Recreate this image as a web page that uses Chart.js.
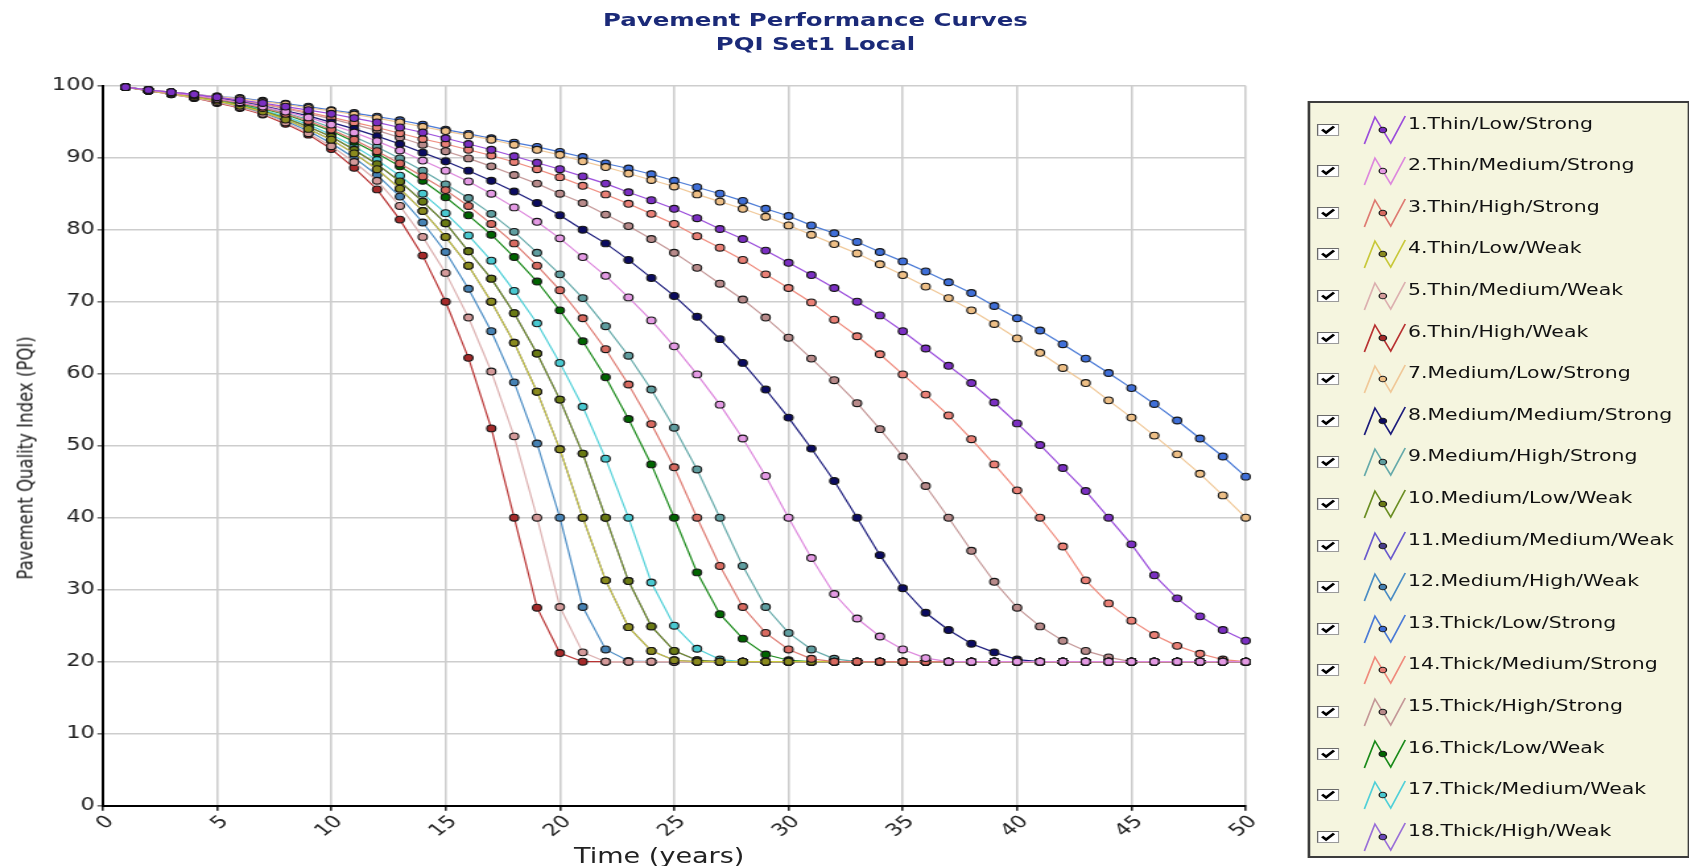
<!DOCTYPE html>
<html>
<head>
<meta charset="utf-8">
<script src="https://cdn.jsdelivr.net/npm/chart.js@4.4.1/dist/chart.umd.min.js"></script>
<style>
  html, body { margin: 0; padding: 0; background: #fff; }
  body { width: 1689px; height: 866px; overflow: hidden; position: relative; }
  #wrap { position: absolute; left: 0; top: 0; width: 1280px; height: 866px;
          transform: scaleX(1.3195); transform-origin: 0 0; }
  #c { position: absolute; left: 0; top: 0; }
  #title { position: absolute; left: 0; top: 8px; width: 1236px; text-align: center;
           font: bold 18.5px "DejaVu Sans", sans-serif; line-height: 23.5px; color: #1b2a78; }
  .axt { position: absolute; white-space: nowrap; color: #222; font-family: "DejaVu Sans", sans-serif; }
  #ytitle { left: 18.8px; top: 458px; font-size: 16.5px; transform: translate(-50%, -50%) rotate(-90deg); }
  #xtitle { left: 499.6px; top: 856px; font-size: 20.5px; transform: translate(-50%, -50%); }
  #legend { position: absolute; left: 991px; top: 101px; width: 286px; height: 753px;
            border: 2px solid #3c3c3c; background: #f5f5df; }
  .row { position: absolute; left: 0; height: 30px; width: 286px; }
  .row svg { position: absolute; }
  .row span { position: absolute; left: 74px; top: 0; line-height: 30px; white-space: nowrap;
              font: 15.5px "DejaVu Sans", sans-serif; color: #111; }
</style>
</head>
<body>
<div id="wrap">
  <div id="title">Pavement Performance Curves<br>PQI Set1 Local</div>
  <canvas id="c" width="990" height="866"></canvas>
  <div id="ytitle" class="axt">Pavement Quality Index (PQI)</div>
  <div id="xtitle" class="axt">Time (years)</div>
  <div id="legend"></div>
</div>
<script>
const years = [1,2,3,4,5,6,7,8,9,10,11,12,13,14,15,16,17,18,19,20,21,22,23,24,25,
               26,27,28,29,30,31,32,33,34,35,36,37,38,39,40,41,42,43,44,45,46,47,48,49,50];

const labels = ['1.Thin/Low/Strong','2.Thin/Medium/Strong','3.Thin/High/Strong','4.Thin/Low/Weak',
  '5.Thin/Medium/Weak','6.Thin/High/Weak','7.Medium/Low/Strong','8.Medium/Medium/Strong',
  '9.Medium/High/Strong','10.Medium/Low/Weak','11.Medium/Medium/Weak','12.Medium/High/Weak',
  '13.Thick/Low/Strong','14.Thick/Medium/Strong','15.Thick/High/Strong','16.Thick/Low/Weak',
  '17.Thick/Medium/Weak','18.Thick/High/Weak'];

const lineColors = ['#9b4ddb','#dd88dd','#de7b72','#c8c83a','#dcb0b0','#b83232','#f0c898','#1c1c7c',
  '#66aaaa','#6b8e23','#6a5acd','#4a8cc4','#4a7ad6','#ef8a7c','#c49898','#1a8a1a','#50d0d8','#9a70d8'];
const markerColors = ['#7b2fc2','#e49ae4','#d86a60','#8a8a1e','#d49a9a','#a52a2a','#eebf86','#0b0b60',
  '#5f9ea0','#6a7a14','#483d8b','#4682b4','#3f6fd8','#ea8076','#b88a8a','#006400','#48c8d0','#6a48b8'];

// PQI values, years 1..50
const s1 = [99.8,99.4,99.1,98.8,98.4,98.0,97.6,97.1,96.6,96.1,95.5,94.9,94.2,93.5,92.7,91.9,91.1,90.2,89.3,88.4,
  87.4,86.4,85.2,84.1,82.9,81.6,80.1,78.7,77.1,75.4,73.7,71.9,70.0,68.1,65.9,63.5,61.1,58.7,56.0,53.1,
  50.1,46.9,43.7,40.0,36.3,32.0,28.8,26.3,24.4,22.9];
const s2 = [99.8,99.4,99.0,98.7,98.2,97.7,97.1,96.4,95.6,94.6,93.5,92.3,91.0,89.6,88.2,86.7,85.0,83.1,81.1,78.8,
  76.2,73.6,70.6,67.4,63.8,59.9,55.7,51.0,45.8,40.0,34.4,29.4,26.0,23.5,21.7,20.5,20,20,20,20,
  20,20,20,20,20,20,20,20,20,20];
const s3 = [99.8,99.4,99.0,98.6,98.1,97.6,96.9,96.1,95.1,93.9,92.5,90.9,89.2,87.4,85.5,83.3,80.8,78.1,75.0,71.6,
  67.7,63.4,58.5,53.0,47.0,40.0,33.3,27.6,24.0,21.7,20.4,20,20,20,20,20,20,20,20,20,
  20,20,20,20,20,20,20,20,20,20];
const s4 = [99.8,99.3,98.9,98.4,97.9,97.2,96.4,95.3,94.0,92.5,90.6,88.4,85.7,82.6,79.0,75.0,70.0,64.3,57.5,49.5,
  40.0,31.3,24.8,21.5,20.2,20,20,20,20,20,20,20,20,20,20,20,20,20,20,20,
  20,20,20,20,20,20,20,20,20,20];
const s5 = [99.8,99.3,98.8,98.3,97.7,97.0,96.1,94.9,93.4,91.6,89.4,86.8,83.3,79.0,74.0,67.8,60.3,51.3,40.0,27.6,
  21.3,20,20,20,20,20,20,20,20,20,20,20,20,20,20,20,20,20,20,20,
  20,20,20,20,20,20,20,20,20,20];
const s6 = [99.8,99.3,98.8,98.3,97.6,96.9,96.0,94.7,93.2,91.2,88.6,85.6,81.4,76.4,70.0,62.2,52.4,40.0,27.5,21.2,
  20,20,20,20,20,20,20,20,20,20,20,20,20,20,20,20,20,20,20,20,
  20,20,20,20,20,20,20,20,20,20];
const s7 = [99.8,99.4,99.1,98.8,98.5,98.2,97.8,97.4,96.9,96.5,96.0,95.5,94.9,94.3,93.7,93.1,92.5,91.8,91.1,90.4,
  89.5,88.7,87.8,86.9,86.0,84.9,83.9,82.9,81.8,80.6,79.3,78.0,76.7,75.2,73.7,72.1,70.5,68.8,66.9,64.9,
  62.9,60.8,58.7,56.3,53.9,51.4,48.8,46.1,43.1,40.0];
const s8 = [99.8,99.4,99.0,98.7,98.3,97.8,97.2,96.5,95.8,94.9,94.0,93.0,91.9,90.7,89.5,88.2,86.8,85.3,83.7,82.0,
  80.0,78.1,75.8,73.3,70.8,67.9,64.8,61.5,57.8,53.9,49.6,45.1,40.0,34.8,30.2,26.8,24.4,22.5,21.3,20.3,
  20,20,20,20,20,20,20,20,20,20];
const s9 = [99.8,99.4,99.0,98.6,98.2,97.7,97.0,96.2,95.3,94.2,92.9,91.5,89.9,88.2,86.3,84.4,82.2,79.7,76.8,73.8,
  70.5,66.6,62.5,57.8,52.5,46.7,40.0,33.3,27.6,24.0,21.7,20.4,20,20,20,20,20,20,20,20,
  20,20,20,20,20,20,20,20,20,20];
const s10 = [99.8,99.3,98.9,98.5,97.9,97.3,96.5,95.5,94.3,92.9,91.1,89.1,86.7,83.9,80.9,77.0,73.2,68.4,62.8,56.4,
  48.9,40.0,31.2,24.9,21.5,20.2,20,20,20,20,20,20,20,20,20,20,20,20,20,20,
  20,20,20,20,20,20,20,20,20,20];
// 11 is not visible in the picture: it runs under curve 4
const s11 = [99.8,99.3,98.9,98.4,97.9,97.2,96.4,95.3,94.0,92.5,90.6,88.4,85.7,82.6,79.0,75.0,70.0,64.3,57.5,49.5,
  40.0,31.3,24.8,21.5,20.2,20,20,20,20,20,20,20,20,20,20,20,20,20,20,20,
  20,20,20,20,20,20,20,20,20,20];
const s12 = [99.8,99.3,98.9,98.4,97.8,97.1,96.2,95.1,93.7,92.0,90.0,87.6,84.6,81.0,76.9,71.8,65.9,58.8,50.3,40.0,
  27.6,21.7,20.1,20,20,20,20,20,20,20,20,20,20,20,20,20,20,20,20,20,
  20,20,20,20,20,20,20,20,20,20];
const s13 = [99.8,99.4,99.1,98.8,98.5,98.3,97.9,97.5,97.1,96.6,96.2,95.7,95.2,94.6,93.9,93.3,92.7,92.1,91.5,90.8,
  90.1,89.2,88.5,87.7,86.8,85.9,85.0,84.0,82.9,81.9,80.6,79.5,78.3,76.9,75.6,74.2,72.7,71.2,69.4,67.7,
  66.0,64.1,62.1,60.1,58.0,55.8,53.5,51.0,48.5,45.7];
const s14 = [99.8,99.4,99.1,98.8,98.4,98.0,97.5,96.9,96.3,95.6,94.9,94.2,93.4,92.6,91.9,91.1,90.3,89.4,88.4,87.3,
  86.1,84.9,83.6,82.2,80.8,79.1,77.5,75.8,73.8,71.9,69.9,67.5,65.2,62.7,59.9,57.1,54.2,50.9,47.4,43.8,
  40.0,36.0,31.3,28.1,25.7,23.7,22.2,21.1,20.3,20.0];
const s15 = [99.8,99.4,99.1,98.7,98.3,97.9,97.4,96.8,96.1,95.4,94.6,93.8,92.8,91.8,90.9,89.9,88.8,87.6,86.4,85.0,
  83.7,82.1,80.5,78.7,76.8,74.7,72.5,70.3,67.8,65.0,62.1,59.1,55.9,52.3,48.5,44.4,40.0,35.4,31.1,27.5,
  24.9,22.9,21.5,20.6,20,20,20,20,20,20];
const s16 = [99.8,99.4,99.0,98.6,98.1,97.5,96.8,96.0,94.9,93.7,92.2,90.6,88.8,86.8,84.5,82.0,79.3,76.2,72.8,68.8,
  64.5,59.5,53.7,47.4,40.0,32.4,26.6,23.2,21.0,20.2,20,20,20,20,20,20,20,20,20,20,
  20,20,20,20,20,20,20,20,20,20];
const s17 = [99.8,99.4,99.0,98.5,98.0,97.4,96.6,95.7,94.6,93.2,91.6,89.7,87.5,85.0,82.3,79.2,75.7,71.5,67.0,61.5,
  55.4,48.2,40.0,31.0,25.0,21.8,20.3,20,20,20,20,20,20,20,20,20,20,20,20,20,
  20,20,20,20,20,20,20,20,20,20];
// 18 is not visible in the picture: it runs under curve 10
const s18 = [99.8,99.3,98.9,98.5,97.9,97.3,96.5,95.5,94.3,92.9,91.1,89.1,86.7,83.9,80.9,77.0,73.2,68.4,62.8,56.4,
  48.9,40.0,31.2,24.9,21.5,20.2,20,20,20,20,20,20,20,20,20,20,20,20,20,20,
  20,20,20,20,20,20,20,20,20,20];

const series = [s1,s2,s3,s4,s5,s6,s7,s8,s9,s10,s11,s12,s13,s14,s15,s16,s17,s18];
const xTicks = [0,5,10,15,20,25,30,35,40,45,50];
const yTicks = [0,10,20,30,40,50,60,70,80,90,100];

const datasets = series.map((vals, i) => ({
  label: labels[i],
  data: years.map((t, j) => ({x: t, y: vals[j]})),
  borderColor: lineColors[i],
  borderWidth: 1.2,
  pointRadius: 3.4,
  pointBorderWidth: 1.1,
  pointBorderColor: '#151515',
  pointBackgroundColor: markerColors[i],
  fill: false,
  clip: 8
}));

const font = {family: '"DejaVu Sans", sans-serif', size: 17};

new Chart(document.getElementById('c'), {
  type: 'line',
  data: {datasets: datasets},
  options: {
    responsive: false,
    animation: false,
    layout: {padding: {left: 0, top: 85.7, right: 45.9, bottom: 0}},
    plugins: {legend: {display: false}, tooltip: {enabled: false}},
    scales: {
      x: {
        type: 'linear', min: 0, max: 50,
        afterFit: s => { s.height = 60.3; },
        afterBuildTicks: s => { s.ticks = xTicks.map(v => ({value: v})); },
        ticks: {font: font, color: '#222', maxRotation: 45, minRotation: 45, padding: 1, labelOffset: 6},
        grid: {color: '#cdcdcd', lineWidth: 1.6, tickLength: 5, tickColor: '#222'},
        border: {color: '#000', width: 2}
      },
      y: {
        min: 0, max: 100,
        afterFit: s => { s.width = 77.8; },
        afterBuildTicks: s => { s.ticks = yTicks.map(v => ({value: v})); },
        ticks: {font: font, color: '#222', padding: 2},
        grid: {color: '#cdcdcd', lineWidth: 1.6, tickLength: 4, tickColor: '#777'},
        border: {color: '#000', width: 2}
      }
    }
  }
});

// legend box with check marks and line/marker glyphs
const legend = document.getElementById('legend');
labels.forEach((txt, i) => {
  const row = document.createElement('div');
  row.className = 'row';
  row.style.top = (129.5 + 41.6 * i - 103 - 15) + 'px';
  row.innerHTML =
    '<svg style="left:5px;top:9px" width="17" height="12" viewBox="0 0 17 12">' +
      '<rect x="0.5" y="0.5" width="16" height="11" fill="#fff" stroke="#9a9a9a"/>' +
      '<path d="M0.5 11.5 V0.5 H16.5" fill="none" stroke="#6a6a6a"/>' +
      '<path d="M4 5.5 L7 8.5 L13 2.5" fill="none" stroke="#000" stroke-width="2.4"/>' +
    '</svg>' +
    '<svg style="left:40px;top:0px" width="33" height="30" viewBox="0 0 33 30">' +
      '<polyline points="1,29 9,2 21,28 32,1" fill="none" stroke="' + lineColors[i] + '" stroke-width="1.3"/>' +
      '<circle cx="15" cy="15" r="2.8" fill="' + markerColors[i] + '" stroke="#1a1a1a" stroke-width="1"/>' +
    '</svg>' +
    '<span>' + txt + '</span>';
  legend.appendChild(row);
});
</script>
</body>
</html>
